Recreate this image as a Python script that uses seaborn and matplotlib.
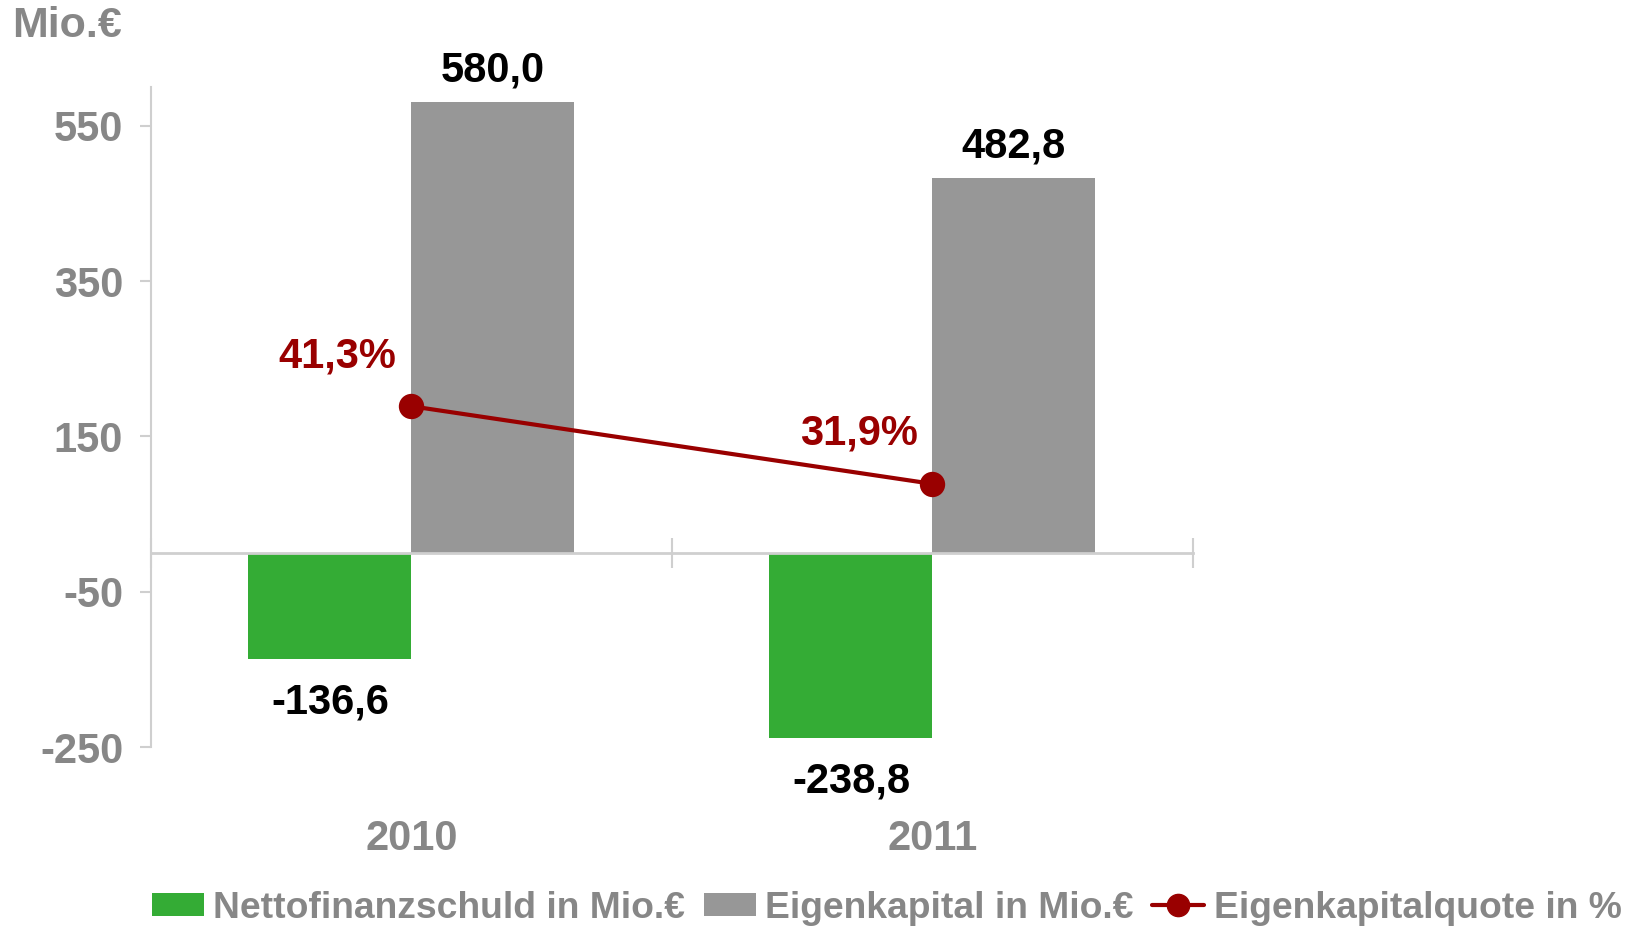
import numpy as np
import pandas as pd
import matplotlib
matplotlib.use("Agg")
import matplotlib.pyplot as plt
from matplotlib.patches import Patch
from matplotlib.lines import Line2D
import seaborn as sns

# data
years = ["2010", "2011"]
nettofinanzschuld = [-136.6, -238.8]
eigenkapital = [580.0, 482.8]
quote = [41.3, 31.9]
series_names = ["Nettofinanzschuld in Mio.€", "Eigenkapital in Mio.€"]
quote_name = "Eigenkapitalquote in %"

green = "#34ac35"
grey = "#979797"
red = "#990000"
txt_grey = "#878787"
line_grey = "#cfcfcf"

sns.set_style("white")
plt.rcParams["font.family"] = ["Liberation Sans", "DejaVu Sans"]
plt.rcParams["font.weight"] = "bold"
plt.rcParams["axes.unicode_minus"] = False

df = pd.DataFrame({
    "Jahr": years * 2,
    "Wert": nettofinanzschuld + eigenkapital,
    "Serie": [series_names[0]] * 2 + [series_names[1]] * 2,
})

fig = plt.figure(figsize=(16.36, 9.31), dpi=100)
ax = fig.add_axes([0.0923, 0.1976, 0.729 - 0.0923, 0.9066 - 0.1976])

sns.barplot(data=df, x="Jahr", y="Wert", hue="Serie", order=years,
            hue_order=series_names, palette=[green, grey], width=0.626,
            gap=0, saturation=1, ax=ax, legend=False, edgecolor="none")

# quote line on secondary axis
ax2 = ax.twinx()
sns.pointplot(x=years, y=quote, ax=ax2, color=red, markers="o",
              markersize=16, linewidth=3)
ax2.set_ylim(0, 80)
ax2.axis("off")
for i, v in enumerate(quote):
    ax2.annotate(f"{v:.1f}%".replace(".", ","), (i, v), xytext=(-53, 36),
                 textcoords="offset points", ha="center", va="center",
                 fontsize=30, color=red, fontweight="bold")

ax.set_xlim(-0.5, 1.5)
ax.set_ylim(-250, 600)
ax.set_yticks([550, 350, 150, -50, -250])
ax.set_xlabel("")
ax.set_ylabel("")

for s in ["top", "right"]:
    ax.spines[s].set_visible(False)
ax.spines["left"].set_color(line_grey)
ax.spines["left"].set_linewidth(1.5)
ax.spines["bottom"].set_position(("data", 0))
ax.spines["bottom"].set_color(line_grey)
ax.spines["bottom"].set_linewidth(2)
ax.tick_params(axis="y", left=True, direction="out", length=8, width=1.5,
               color=line_grey, labelsize=30, labelcolor=txt_grey, pad=12)

# year labels at the bottom
sec = ax.secondary_xaxis(0)
sec.set_xticks(range(len(years)))
sec.set_xticklabels(years)
sec.tick_params(length=0, labelsize=30, labelcolor=txt_grey, pad=52)
sec.spines["bottom"].set_visible(False)

# category boundary ticks on the zero line
ax.set_xticks([-0.5, 0.5, 1.5])
ax.set_xticklabels(["", "", ""])
ax.tick_params(axis="x", bottom=True, direction="inout", length=22, width=1.5,
               color=line_grey, labelbottom=False)

# bar labels
for i, v in enumerate(nettofinanzschuld):
    ax.annotate(f"{v:.1f}".replace(".", ","), (i - 0.156, v), xytext=(0, -31),
                textcoords="offset points", ha="center", va="center",
                fontsize=30, color="black", fontweight="bold")
for i, v in enumerate(eigenkapital):
    ax.annotate(f"{v:.1f}".replace(".", ","), (i + 0.156, v), xytext=(0, 23),
                textcoords="offset points", ha="center", va="center",
                fontsize=30, color="black", fontweight="bold")

fig.text(0.0076, 0.972, "Mio.€", fontsize=31, color=txt_grey,
         fontweight="bold", ha="left", va="center")

handles = [
    Patch(facecolor=green, edgecolor="none", label=series_names[0]),
    Patch(facecolor=grey, edgecolor="none", label=series_names[1]),
    Line2D([0], [0], color=red, marker="o", markersize=16, linewidth=3,
           label=quote_name),
]
leg = fig.legend(handles=handles, ncol=3, loc="center",
                 bbox_to_anchor=(0.542, 0.0247), frameon=False,
                 fontsize=26.8, handlelength=1.4, handleheight=0.6,
                 handletextpad=0.25, columnspacing=0.5)
for t in leg.get_texts():
    t.set_color(txt_grey)

fig.savefig("out.png", dpi=100)
